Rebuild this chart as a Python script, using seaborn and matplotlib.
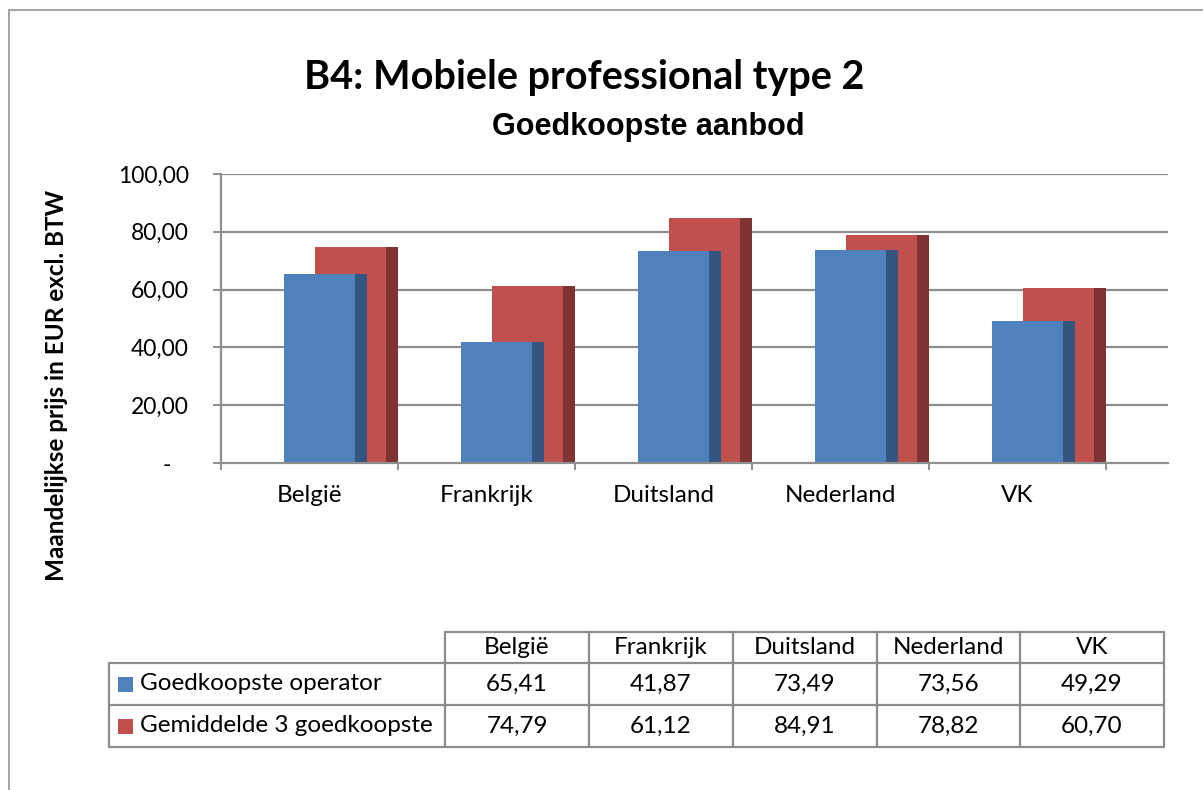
import matplotlib
matplotlib.use("Agg")
import matplotlib.pyplot as plt
from matplotlib.patches import Rectangle
from matplotlib.lines import Line2D
import seaborn as sns
import pandas as pd

# ---------------- data ----------------
countries = ["België", "Frankrijk", "Duitsland", "Nederland", "VK"]
series_names = ["Goedkoopste operator", "Gemiddelde 3 goedkoopste"]
goedkoopste = [65.41, 41.87, 73.49, 73.56, 49.29]
gemiddelde = [74.79, 61.12, 84.91, 78.82, 60.70]
table_goedkoopste = ["65,41", "41,87", "73,49", "73,56", "49,29"]
table_gemiddelde = ["74,79", "61,12", "84,91", "78,82", "60,70"]
yticks = [0, 20, 40, 60, 80, 100]
ytick_labels = ["-   ", "20,00", "40,00", "60,00", "80,00", "100,00"]
title = "B4: Mobiele professional type 2"
subtitle = "Goedkoopste aanbod"
ylabel = "Maandelijkse prijs in EUR excl. BTW"

blue = "#4F81BD"
blue_side = "#34557F"
red = "#C0504D"
red_side = "#7E3231"
grid_c = "#8E8E8E"

sns.set_theme(style="white")
plt.rcParams["font.family"] = ["Lato", "DejaVu Sans"]

W, H = 1203, 790
fig = plt.figure(figsize=(W / 100, H / 100), dpi=100)

def fx(px):
    return px / W

def fy(py):
    return 1 - py / H

# axes geometry (pixels)
ax_l, ax_r, ax_t, ax_b = 221, 1168, 174, 463
cat_w = 177.0
ax = fig.add_axes([fx(ax_l), fy(ax_b), fx(ax_r - ax_l), (ax_b - ax_t) / H])

df = pd.DataFrame({
    "country": countries * 2,
    "series": [series_names[0]] * 5 + [series_names[1]] * 5,
    "value": goedkoopste + gemiddelde,
})
sns.barplot(data=df, x="country", y="value", hue="series", order=countries,
            hue_order=series_names, palette=[blue, red], saturation=1,
            dodge=True, ax=ax, legend=False, errorbar=None)

# reposition bars to mimic the Excel pseudo-3D layout
front_w = 71 / cat_w
side_w = 12 / cat_w
offsets = [63 / cat_w - 0.5, 1 - 0.5 - side_w - front_w]
zs = [4, 2]
sides = [blue_side, red_side]
for k, cont in enumerate(ax.containers):
    for i, p in enumerate(cont.patches):
        h = p.get_height()
        p.set_x(i + offsets[k])
        p.set_width(front_w)
        p.set_linewidth(0)
        p.set_zorder(zs[k])
        ax.add_patch(Rectangle((i + offsets[k] + front_w, 0), side_w, h,
                               facecolor=sides[k], linewidth=0, zorder=zs[k]))

ax.set_xlim(-0.5, -0.5 + (ax_r - ax_l) / cat_w)
ax.set_ylim(0, 100)
ax.set_yticks(yticks)
ax.set_yticklabels(ytick_labels)
ax.set_xticks(range(len(countries)))
ax.set_xticklabels(countries)
ax.set_xticks([i - 0.5 for i in range(len(countries) + 1)], minor=True)
ax.set_xlabel("")
ax.set_ylabel("")
for y in yticks[1:]:
    ax.axhline(y, color=grid_c, lw=1.6, zorder=1)
for s in ["top", "right"]:
    ax.spines[s].set_visible(False)
ax.spines["left"].set_color(grid_c)
ax.spines["left"].set_linewidth(1.6)
ax.spines["bottom"].set_color(grid_c)
ax.spines["bottom"].set_linewidth(1.6)
ax.spines["bottom"].set_zorder(6)
ax.tick_params(axis="y", which="major", direction="out", length=6, width=1.4,
               color=grid_c, pad=17, labelsize=16.5, labelcolor="black", left=True)
ax.tick_params(axis="x", which="major", length=0, pad=16, labelsize=17.5,
               labelcolor="black")
ax.tick_params(axis="x", which="minor", direction="out", length=5, width=1.4,
               color=grid_c, bottom=True)
ax.set_facecolor("none")

# titles
fig.text(fx(584), fy(78), title, ha="center", va="center", fontsize=28.5,
         fontweight="bold", color="black")
fig.text(fx(648), fy(127), subtitle, ha="center", va="center", fontsize=22,
         fontweight="bold", color="black", family=["Liberation Sans"])
fig.text(fx(57), fy(385), ylabel, ha="center", va="center", rotation=90,
         fontsize=17.5, fontweight="bold", color="black")

# outer border
fig.add_artist(Line2D([fx(9), fx(9)], [fy(10), 0], color="#A6A6A6", lw=1.5,
                      transform=fig.transFigure))
fig.add_artist(Line2D([fx(9), 1], [fy(10), fy(10)], color="#A6A6A6", lw=1.5,
                      transform=fig.transFigure))

# data table
col_x = [445, 589, 733, 877, 1020, 1164]
leg_x0 = 109
row_y = [632, 663, 705, 747]
tc = "#8C8C8C"
def hline(x0, x1, y):
    fig.add_artist(Line2D([fx(x0), fx(x1)], [fy(y), fy(y)], color=tc, lw=1.6,
                          transform=fig.transFigure))
def vline(x, y0, y1):
    fig.add_artist(Line2D([fx(x), fx(x)], [fy(y0), fy(y1)], color=tc, lw=1.6,
                          transform=fig.transFigure))
hline(col_x[0], col_x[-1], row_y[0])
for y in row_y[1:]:
    hline(leg_x0, col_x[-1], y)
vline(leg_x0, row_y[1], row_y[3])
for x in col_x:
    vline(x, row_y[0], row_y[3])

fs_t = 17.5
for j, c in enumerate(countries):
    cx = (col_x[j] + col_x[j + 1]) / 2
    fig.text(fx(cx), fy((row_y[0] + row_y[1]) / 2), c, ha="center", va="center",
             fontsize=fs_t, color="black")
    fig.text(fx(cx), fy((row_y[1] + row_y[2]) / 2), table_goedkoopste[j],
             ha="center", va="center", fontsize=fs_t, color="black")
    fig.text(fx(cx), fy((row_y[2] + row_y[3]) / 2), table_gemiddelde[j],
             ha="center", va="center", fontsize=fs_t, color="black")

for r, (name, col) in enumerate(zip(series_names, [blue, red])):
    yc = (row_y[r + 1] + row_y[r + 2]) / 2
    fig.add_artist(Rectangle((fx(118), fy(yc + 7.5)), fx(15), 15 / H,
                             facecolor=col, linewidth=0, transform=fig.transFigure))
    fig.text(fx(140), fy(yc), name, ha="left", va="center", fontsize=fs_t,
             color="black")

fig.savefig("out.png", dpi=100)
